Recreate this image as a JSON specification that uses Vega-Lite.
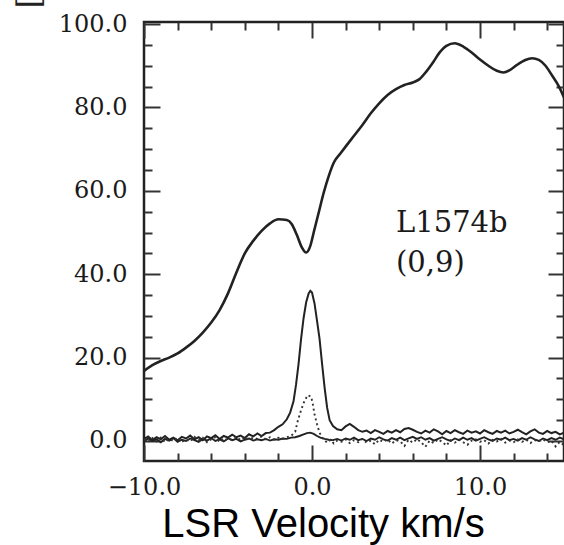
{
  "$schema": "https://vega.github.io/schema/vega-lite/v6.json",
  "width": 420,
  "height": 439,
  "autosize": {"type": "none"},
  "padding": {"left": 144, "top": 22, "right": 0, "bottom": 84},
  "background": "white",
  "config": {
    "view": {"stroke": "#222", "strokeWidth": 2.5},
    "axis": {"grid": false, "domain": false, "tickColor": "#333", "tickWidth": 2, "labelOverlap": false, "labelFlush": false, "labelBound": false}
  },
  "datasets": {
    "big": [
      {"v": -10, "t": 16.8}, {"v": -9.5, "t": 18.2}, {"v": -9.0, "t": 19.2}, {"v": -8.5, "t": 20.0}, {"v": -8.0, "t": 21.0},
      {"v": -7.5, "t": 22.4}, {"v": -7.0, "t": 24.0}, {"v": -6.5, "t": 26.0}, {"v": -6.0, "t": 28.4}, {"v": -5.5, "t": 31.4},
      {"v": -5.0, "t": 35.4}, {"v": -4.5, "t": 40.4}, {"v": -4.0, "t": 45.0}, {"v": -3.5, "t": 48.0}, {"v": -3.0, "t": 50.4},
      {"v": -2.5, "t": 52.2}, {"v": -2.0, "t": 53.2}, {"v": -1.5, "t": 53.0}, {"v": -1.2, "t": 52.0}, {"v": -0.9, "t": 49.4},
      {"v": -0.6, "t": 46.4}, {"v": -0.35, "t": 45.2}, {"v": -0.1, "t": 46.8}, {"v": 0.1, "t": 50.0}, {"v": 0.4, "t": 54.8},
      {"v": 0.7, "t": 59.6}, {"v": 1.0, "t": 63.6}, {"v": 1.3, "t": 66.8}, {"v": 1.7, "t": 69.0}, {"v": 2.0, "t": 70.6},
      {"v": 2.5, "t": 73.2}, {"v": 3.0, "t": 75.8}, {"v": 3.5, "t": 78.6}, {"v": 4.0, "t": 81.0}, {"v": 4.5, "t": 83.0},
      {"v": 5.0, "t": 84.4}, {"v": 5.5, "t": 85.4}, {"v": 6.0, "t": 86.0}, {"v": 6.4, "t": 86.8}, {"v": 6.8, "t": 88.6},
      {"v": 7.2, "t": 90.8}, {"v": 7.6, "t": 93.2}, {"v": 8.0, "t": 94.8}, {"v": 8.5, "t": 95.4}, {"v": 9.0, "t": 94.6},
      {"v": 9.5, "t": 93.2}, {"v": 10.0, "t": 91.5}, {"v": 10.5, "t": 90.0}, {"v": 11.0, "t": 88.8}, {"v": 11.4, "t": 88.4},
      {"v": 11.8, "t": 89.0}, {"v": 12.2, "t": 90.2}, {"v": 12.7, "t": 91.4}, {"v": 13.1, "t": 91.8}, {"v": 13.5, "t": 91.4},
      {"v": 13.9, "t": 90.0}, {"v": 14.3, "t": 87.6}, {"v": 14.7, "t": 85.0}, {"v": 15.0, "t": 82.4}
    ],
    "peak": [
      {"v": -10, "t": 0.5}, {"v": -9.75, "t": 1.1}, {"v": -9.5, "t": 0.2}, {"v": -9.25, "t": 0.9}, {"v": -9, "t": 0.4},
      {"v": -8.75, "t": 1.2}, {"v": -8.5, "t": 0.3}, {"v": -8.25, "t": 0.8}, {"v": -8, "t": 0.1}, {"v": -7.75, "t": 1.0},
      {"v": -7.5, "t": 0.6}, {"v": -7.25, "t": 1.3}, {"v": -7, "t": 0.4}, {"v": -6.75, "t": 0.9}, {"v": -6.5, "t": 0.2},
      {"v": -6.25, "t": 1.1}, {"v": -6, "t": 0.7}, {"v": -5.75, "t": 1.4}, {"v": -5.5, "t": 0.5}, {"v": -5.25, "t": 1.2},
      {"v": -5, "t": 0.8}, {"v": -4.75, "t": 1.5}, {"v": -4.5, "t": 0.9}, {"v": -4.25, "t": 1.3}, {"v": -4, "t": 0.7},
      {"v": -3.75, "t": 1.6}, {"v": -3.5, "t": 1.1}, {"v": -3.25, "t": 1.8}, {"v": -3, "t": 1.2}, {"v": -2.75, "t": 1.9},
      {"v": -2.5, "t": 2.0}, {"v": -2.25, "t": 2.6}, {"v": -2, "t": 3.4}, {"v": -1.75, "t": 4.0}, {"v": -1.5, "t": 5.2},
      {"v": -1.3, "t": 6.8}, {"v": -1.1, "t": 9.5}, {"v": -0.95, "t": 13.5}, {"v": -0.8, "t": 18.5}, {"v": -0.65, "t": 24.5},
      {"v": -0.5, "t": 29.5}, {"v": -0.35, "t": 33.2}, {"v": -0.2, "t": 35.4}, {"v": -0.1, "t": 36.0}, {"v": 0, "t": 35.6},
      {"v": 0.15, "t": 33.0}, {"v": 0.3, "t": 28.8}, {"v": 0.45, "t": 24.5}, {"v": 0.6, "t": 18.5}, {"v": 0.75, "t": 12.8},
      {"v": 0.9, "t": 8.0}, {"v": 1.05, "t": 5.0}, {"v": 1.25, "t": 3.6}, {"v": 1.5, "t": 2.8}, {"v": 1.75, "t": 2.6},
      {"v": 2, "t": 3.5}, {"v": 2.25, "t": 4.1}, {"v": 2.5, "t": 3.4}, {"v": 2.75, "t": 2.6}, {"v": 3, "t": 2.2},
      {"v": 3.25, "t": 2.5}, {"v": 3.5, "t": 1.9}, {"v": 3.75, "t": 2.6}, {"v": 4, "t": 2.2}, {"v": 4.25, "t": 1.7},
      {"v": 4.5, "t": 2.4}, {"v": 4.75, "t": 2.0}, {"v": 5, "t": 2.6}, {"v": 5.25, "t": 2.1}, {"v": 5.5, "t": 2.9},
      {"v": 5.75, "t": 3.1}, {"v": 6, "t": 2.7}, {"v": 6.25, "t": 2.2}, {"v": 6.5, "t": 1.8}, {"v": 6.75, "t": 2.5},
      {"v": 7, "t": 2.0}, {"v": 7.25, "t": 2.8}, {"v": 7.5, "t": 2.3}, {"v": 7.75, "t": 1.6}, {"v": 8, "t": 2.4},
      {"v": 8.25, "t": 1.9}, {"v": 8.5, "t": 2.6}, {"v": 8.75, "t": 2.1}, {"v": 9, "t": 1.7}, {"v": 9.25, "t": 2.5},
      {"v": 9.5, "t": 2.0}, {"v": 9.75, "t": 2.3}, {"v": 10, "t": 1.8}, {"v": 10.25, "t": 2.6}, {"v": 10.5, "t": 2.1},
      {"v": 10.75, "t": 1.7}, {"v": 11, "t": 2.4}, {"v": 11.25, "t": 2.0}, {"v": 11.5, "t": 2.5}, {"v": 11.75, "t": 1.8},
      {"v": 12, "t": 2.2}, {"v": 12.25, "t": 2.7}, {"v": 12.5, "t": 2.1}, {"v": 12.75, "t": 1.6}, {"v": 13, "t": 2.3},
      {"v": 13.25, "t": 2.8}, {"v": 13.5, "t": 2.0}, {"v": 13.75, "t": 1.7}, {"v": 14, "t": 2.4}, {"v": 14.25, "t": 1.9},
      {"v": 14.5, "t": 2.2}, {"v": 14.75, "t": 1.6}, {"v": 15, "t": 2.0}
    ],
    "low": [
      {"v": -10, "t": -0.1}, {"v": -9.75, "t": 0.6}, {"v": -9.5, "t": 0.0}, {"v": -9.25, "t": 0.4}, {"v": -9, "t": -0.3},
      {"v": -8.75, "t": 0.5}, {"v": -8.5, "t": 0.1}, {"v": -8.25, "t": 0.7}, {"v": -8, "t": -0.2}, {"v": -7.75, "t": 0.3},
      {"v": -7.5, "t": 0.0}, {"v": -7.25, "t": 0.6}, {"v": -7, "t": 0.2}, {"v": -6.75, "t": -0.2}, {"v": -6.5, "t": 0.5},
      {"v": -6.25, "t": 0.1}, {"v": -6, "t": 0.7}, {"v": -5.75, "t": 0.0}, {"v": -5.5, "t": 0.4}, {"v": -5.25, "t": -0.1},
      {"v": -5, "t": 0.6}, {"v": -4.75, "t": 0.2}, {"v": -4.5, "t": 0.5}, {"v": -4.25, "t": -0.1}, {"v": -4, "t": 0.3},
      {"v": -3.75, "t": 0.6}, {"v": -3.5, "t": 0.1}, {"v": -3.25, "t": 0.4}, {"v": -3, "t": 0.2}, {"v": -2.75, "t": 0.5},
      {"v": -2.5, "t": 0.1}, {"v": -2.25, "t": 0.4}, {"v": -2, "t": 0.3}, {"v": -1.75, "t": 0.6}, {"v": -1.5, "t": 0.5},
      {"v": -1.25, "t": 0.8}, {"v": -1.0, "t": 0.9}, {"v": -0.75, "t": 1.2}, {"v": -0.5, "t": 1.6}, {"v": -0.3, "t": 1.9},
      {"v": -0.1, "t": 2.0}, {"v": 0.1, "t": 1.7}, {"v": 0.3, "t": 1.2}, {"v": 0.5, "t": 0.8}, {"v": 0.75, "t": 0.5},
      {"v": 1.0, "t": 0.3}, {"v": 1.25, "t": 0.2}, {"v": 1.5, "t": 0.5}, {"v": 1.75, "t": 0.1}, {"v": 2, "t": 0.6},
      {"v": 2.25, "t": 0.3}, {"v": 2.5, "t": 0.8}, {"v": 2.75, "t": 0.2}, {"v": 3, "t": 0.5}, {"v": 3.25, "t": 0.0},
      {"v": 3.5, "t": 0.6}, {"v": 3.75, "t": 0.3}, {"v": 4, "t": 0.9}, {"v": 4.25, "t": 0.4}, {"v": 4.5, "t": 0.1},
      {"v": 4.75, "t": 0.7}, {"v": 5, "t": 0.3}, {"v": 5.25, "t": 0.8}, {"v": 5.5, "t": 0.2}, {"v": 5.75, "t": 0.6},
      {"v": 6, "t": 1.0}, {"v": 6.25, "t": 0.5}, {"v": 6.5, "t": 0.9}, {"v": 6.75, "t": 0.3}, {"v": 7, "t": 0.7},
      {"v": 7.25, "t": 0.1}, {"v": 7.5, "t": 0.5}, {"v": 7.75, "t": 0.9}, {"v": 8, "t": 0.4}, {"v": 8.25, "t": 0.0},
      {"v": 8.5, "t": 0.6}, {"v": 8.75, "t": 0.2}, {"v": 9, "t": 0.8}, {"v": 9.25, "t": 0.3}, {"v": 9.5, "t": 0.7},
      {"v": 9.75, "t": 0.1}, {"v": 10, "t": 0.5}, {"v": 10.25, "t": 0.9}, {"v": 10.5, "t": 0.4}, {"v": 10.75, "t": 0.0},
      {"v": 11, "t": 0.6}, {"v": 11.25, "t": 0.3}, {"v": 11.5, "t": 0.8}, {"v": 11.75, "t": 0.2}, {"v": 12, "t": 0.5},
      {"v": 12.25, "t": 0.1}, {"v": 12.5, "t": 0.7}, {"v": 12.75, "t": 0.3}, {"v": 13, "t": 0.9}, {"v": 13.25, "t": 0.4},
      {"v": 13.5, "t": 0.0}, {"v": 13.75, "t": 0.6}, {"v": 14, "t": 0.2}, {"v": 14.25, "t": 0.7}, {"v": 14.5, "t": 0.3},
      {"v": 14.75, "t": 0.8}, {"v": 15, "t": 0.4}
    ],
    "dot": [
      {"v": -10, "t": 0.4}, {"v": -9.75, "t": -0.2}, {"v": -9.5, "t": 0.7}, {"v": -9.25, "t": -0.1}, {"v": -9, "t": 0.8},
      {"v": -8.75, "t": -0.3}, {"v": -8.5, "t": 0.5}, {"v": -8.25, "t": 0.0}, {"v": -8, "t": 0.9}, {"v": -7.75, "t": -0.2},
      {"v": -7.5, "t": 0.3}, {"v": -7.25, "t": -0.1}, {"v": -7, "t": 1.0}, {"v": -6.75, "t": 0.2}, {"v": -6.5, "t": 0.8},
      {"v": -6.25, "t": -0.3}, {"v": -6, "t": 0.4}, {"v": -5.75, "t": 0.9}, {"v": -5.5, "t": -0.2}, {"v": -5.25, "t": 0.7},
      {"v": -5, "t": 0.1}, {"v": -4.75, "t": 0.6}, {"v": -4.5, "t": 1.0}, {"v": -4.25, "t": 0.2}, {"v": -4, "t": 0.9},
      {"v": -3.75, "t": 0.3}, {"v": -3.5, "t": 0.8}, {"v": -3.25, "t": 0.5}, {"v": -3, "t": 1.1}, {"v": -2.75, "t": 0.4},
      {"v": -2.5, "t": 0.9}, {"v": -2.25, "t": 0.3}, {"v": -2, "t": 0.8}, {"v": -1.75, "t": 0.5}, {"v": -1.5, "t": 0.9},
      {"v": -1.25, "t": 1.2}, {"v": -1.0, "t": 2.2}, {"v": -0.85, "t": 4.8}, {"v": -0.65, "t": 7.4}, {"v": -0.45, "t": 9.6},
      {"v": -0.25, "t": 11.0}, {"v": -0.05, "t": 10.6}, {"v": 0.05, "t": 8.8}, {"v": 0.15, "t": 6.4}, {"v": 0.3, "t": 4.0},
      {"v": 0.45, "t": 2.0}, {"v": 0.6, "t": 0.8}, {"v": 0.75, "t": 0.2}, {"v": 0.9, "t": -0.4}, {"v": 1.1, "t": 0.3},
      {"v": 1.3, "t": -0.6}, {"v": 1.5, "t": 0.1}, {"v": 1.75, "t": -0.2}, {"v": 2, "t": 0.4}, {"v": 2.25, "t": -0.5},
      {"v": 2.5, "t": 0.2}, {"v": 2.75, "t": -0.3}, {"v": 3, "t": 0.5}, {"v": 3.25, "t": -0.4}, {"v": 3.5, "t": 0.1},
      {"v": 3.75, "t": -0.8}, {"v": 4, "t": 0.3}, {"v": 4.25, "t": -0.2}, {"v": 4.5, "t": 0.4}, {"v": 4.75, "t": -0.6},
      {"v": 5, "t": 0.2}, {"v": 5.25, "t": -0.1}, {"v": 5.5, "t": -1.2}, {"v": 5.75, "t": 0.3}, {"v": 6, "t": -0.4},
      {"v": 6.25, "t": 0.5}, {"v": 6.5, "t": -0.3}, {"v": 6.75, "t": -1.4}, {"v": 7, "t": 0.1}, {"v": 7.25, "t": -0.5},
      {"v": 7.5, "t": 0.4}, {"v": 7.75, "t": -0.2}, {"v": 8, "t": -1.1}, {"v": 8.25, "t": 0.2}, {"v": 8.5, "t": -0.4},
      {"v": 8.75, "t": 0.3}, {"v": 9, "t": -0.3}, {"v": 9.25, "t": -0.9}, {"v": 9.5, "t": 0.1}, {"v": 9.75, "t": 0.4},
      {"v": 10, "t": -0.2}, {"v": 10.25, "t": 0.2}, {"v": 10.5, "t": -0.6}, {"v": 10.75, "t": 0.3}, {"v": 11, "t": -0.1},
      {"v": 11.25, "t": 0.5}, {"v": 11.5, "t": -0.4}, {"v": 11.75, "t": 0.1}, {"v": 12, "t": -0.3}, {"v": 12.25, "t": 0.4},
      {"v": 12.5, "t": -0.2}, {"v": 12.75, "t": 0.3}, {"v": 13, "t": -0.5}, {"v": 13.25, "t": 0.2}, {"v": 13.5, "t": -0.1},
      {"v": 13.75, "t": 0.4}, {"v": 14, "t": -0.3}, {"v": 14.25, "t": 0.1}, {"v": 14.5, "t": -1.3}, {"v": 14.75, "t": -0.2},
      {"v": 15, "t": -1.0}
    ],
    "ann": [
      {"v": 5.0, "t": 50.1, "label": "L1574b"},
      {"v": 5.0, "t": 40.5, "label": "(0,9)"}
    ]
  },
  "layer": [
    {
      "data": {"name": "big"},
      "mark": {"type": "line", "interpolate": "monotone", "color": "#222", "strokeWidth": 2.6, "clip": true},
      "encoding": {
        "x": {
          "field": "v", "type": "quantitative",
          "scale": {"domain": [-10, 15], "nice": false, "zero": false},
          "axis": {
            "orient": "bottom",
            "values": [-10, -8, -6, -4, -2, 0, 2, 4, 6, 8, 10, 12, 14],
            "tickSize": {"condition": {"test": "datum.value % 10 === 0", "value": -16}, "value": -8},
            "labelExpr": "datum.value % 10 === 0 ? format(datum.value, '.1f') : ''",
            "labelFont": "DejaVu Serif", "labelFontSize": 24, "labelColor": "#1a1a1a",
            "labelPadding": 30,
            "title": "LSR Velocity km/s",
            "titleFont": "Liberation Sans", "titleFontSize": 40, "titleFontWeight": "normal", "titleColor": "#000",
            "titleX": 179, "titleAlign": "center", "titleY": 75, "titleBaseline": "alphabetic", "titleAnchor": "start"
          }
        },
        "y": {
          "field": "t", "type": "quantitative",
          "scale": {"domain": [-4.8, 100.5], "nice": false, "zero": false},
          "axis": {
            "orient": "left",
            "values": [0, 5, 10, 15, 20, 25, 30, 35, 40, 45, 50, 55, 60, 65, 70, 75, 80, 85, 90, 95, 100],
            "tickSize": {"condition": {"test": "datum.value % 20 === 0", "value": -16}, "value": -8},
            "labelExpr": "datum.value % 20 === 0 ? format(datum.value, '.1f') : ''",
            "labelFont": "DejaVu Serif", "labelFontSize": 24, "labelColor": "#1a1a1a",
            "labelPadding": 33,
            "title": "T [K]",
            "titleFont": "DejaVu Serif", "titleFontSize": 32, "titleFontWeight": "normal", "titleColor": "#222",
            "titleAngle": 90, "titleX": -115, "titleY": -14, "titleAlign": "right", "titleBaseline": "middle", "titleAnchor": "start"
          }
        }
      }
    },
    {
      "data": {"name": "peak"},
      "mark": {"type": "line", "interpolate": "linear", "color": "#222", "strokeWidth": 2, "clip": true},
      "encoding": {
        "x": {"field": "v", "type": "quantitative", "axis": null},
        "y": {"field": "t", "type": "quantitative", "axis": null}
      }
    },
    {
      "data": {"name": "low"},
      "mark": {"type": "line", "interpolate": "linear", "color": "#222", "strokeWidth": 1.9, "clip": true},
      "encoding": {
        "x": {"field": "v", "type": "quantitative", "axis": null},
        "y": {"field": "t", "type": "quantitative", "axis": null}
      }
    },
    {
      "data": {"name": "dot"},
      "mark": {"type": "line", "interpolate": "linear", "color": "#333", "strokeWidth": 1.9, "strokeDash": [2, 3], "clip": true},
      "encoding": {
        "x": {"field": "v", "type": "quantitative", "axis": null},
        "y": {"field": "t", "type": "quantitative", "axis": null}
      }
    },
    {
      "data": {"name": "ann"},
      "mark": {"type": "text", "align": "left", "baseline": "alphabetic", "font": "DejaVu Serif", "fontSize": 29, "color": "#1a1a1a"},
      "encoding": {
        "x": {
          "field": "v", "type": "quantitative",
          "scale": {"domain": [-10, 15], "nice": false, "zero": false},
          "axis": {
            "orient": "top",
            "values": [-10, -8, -6, -4, -2, 0, 2, 4, 6, 8, 10, 12, 14],
            "tickSize": {"condition": {"test": "datum.value % 10 === 0", "value": -16}, "value": -8},
            "labels": false, "title": null
          }
        },
        "y": {
          "field": "t", "type": "quantitative",
          "scale": {"domain": [-4.8, 100.5], "nice": false, "zero": false},
          "axis": {
            "orient": "right",
            "values": [0, 5, 10, 15, 20, 25, 30, 35, 40, 45, 50, 55, 60, 65, 70, 75, 80, 85, 90, 95, 100],
            "tickSize": {"condition": {"test": "datum.value % 20 === 0", "value": -16}, "value": -8},
            "labels": false, "title": null
          }
        },
        "text": {"field": "label", "type": "nominal"}
      }
    }
  ],
  "resolve": {"axis": {"x": "independent", "y": "independent"}}
}
